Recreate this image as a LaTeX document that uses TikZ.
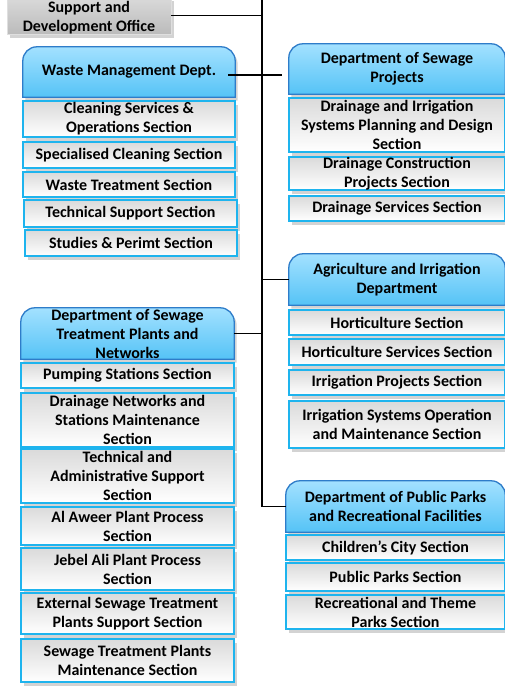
\documentclass[tikz,border=0pt]{standalone}
\usepackage{fontspec}
\setmainfont{Carlito}
\usetikzlibrary{shadows,backgrounds}
\definecolor{deptTop}{HTML}{A3E1FF}
\definecolor{deptBot}{HTML}{55C3F6}
\definecolor{deptBorder}{HTML}{2E7CC9}
\definecolor{sectBorder}{HTML}{1EB4EE}
\definecolor{sectGray}{HTML}{DADADA}
\definecolor{offTop}{HTML}{DADADA}
\definecolor{offBot}{HTML}{BBBBBB}
\tikzset{
  shad/.style={drop shadow={opacity=0.35, shadow xshift=2.5pt, shadow yshift=-3.5pt}},
  sect/.style={draw=sectBorder, line width=1.5pt, top color=sectGray, bottom color=white,
    shad, align=center, inner sep=0pt},
  dept/.style={align=center, inner sep=0pt},
  deptfill/.style={draw=deptBorder, line width=1.3pt, top color=deptTop, bottom color=deptBot, shad},
  office/.style={draw=gray!25, line width=0.8pt, top color=offTop, bottom color=offBot, shad, inner sep=0pt},
  conn/.style={line width=1.6pt, black}
}
\newcommand\deptshape[1]{%
  \begin{pgfonlayer}{background}
  \path[deptfill] (#1.south west) -- ([yshift=-14pt]#1.north west)
    arc[start angle=180,end angle=90,radius=14pt] -- ([xshift=-14pt]#1.north east)
    arc[start angle=90,end angle=0,radius=14pt] -- (#1.south east) -- cycle;
  \end{pgfonlayer}}
\begin{document}
\begin{tikzpicture}[x=1pt,y=-1pt,font=\fontsize{16}{19}\selectfont\bfseries]
\useasboundingbox (0,0) rectangle (505,689);

% spine
\coordinate (top) at (262,-5);
\coordinate (bend) at (262,506.5);

% support office
\node[office, minimum width=164pt, minimum height=37pt] (so) at (89,15.5) {};
\node[align=center, inner sep=0pt] (sot) at (89,17.5) {Support and\\Development Office};

% Waste management
\node[dept, minimum width=212pt, minimum height=50pt] (wm) at (129,72) {Waste Management Dept.};
\deptshape{wm}
\node[sect, minimum width=212pt, minimum height=36pt] (c1) at (129,119) {Cleaning Services \&\\Operations Section};
\node[sect, minimum width=212pt, minimum height=26pt] (c2) at (129,155) {Specialised Cleaning Section};
\node[sect, minimum width=212pt, minimum height=25pt] (c3) at (129,184.5) {Waste Treatment Section};
\node[sect, minimum width=213pt, minimum height=27pt] (c4) at (130.5,213.5) {Technical Support Section};
\node[sect, minimum width=212pt, minimum height=26pt] (c5) at (131,243) {Studies \& Perimt Section};

% Sewage projects
\node[dept, minimum width=216pt, minimum height=50pt] (sp) at (397,69) {Department of Sewage\\Projects};
\deptshape{sp}
\node[sect, minimum width=216pt, minimum height=54pt] (d1) at (397,125) {Drainage and Irrigation\\Systems Planning and Design\\Section};
\node[sect, minimum width=216pt, minimum height=33pt] (d2) at (397,173.5) {Drainage Construction\\Projects Section};
\node[sect, minimum width=216pt, minimum height=25pt] (d3) at (397,208.5) {Drainage Services Section};

% Agriculture
\node[dept, minimum width=216pt, minimum height=51pt] (ag) at (397,279.5) {Agriculture and Irrigation\\Department};
\deptshape{ag}
\node[sect, minimum width=216pt, minimum height=25pt] (a1) at (397,322.5) {Horticulture Section};
\node[sect, minimum width=216pt, minimum height=26pt] (a2) at (397,352) {Horticulture Services Section};
\node[sect, minimum width=216pt, minimum height=25pt] (a3) at (397,382.5) {Irrigation Projects Section};
\node[sect, minimum width=216pt, minimum height=47pt] (a4) at (397,424.5) {Irrigation Systems Operation\\and Maintenance Section};

% Sewage treatment plants
\node[dept, minimum width=213pt, minimum height=51pt] (st) at (127.5,333.5) {Department of Sewage\\Treatment Plants and\\Networks};
\deptshape{st}
\node[sect, minimum width=213pt, minimum height=25pt] (t1) at (127.5,375.5) {Pumping Stations Section};
\node[sect, minimum width=213pt, minimum height=54pt] (t2) at (127.5,420) {Drainage Networks and\\Stations Maintenance\\Section};
\node[sect, minimum width=213pt, minimum height=54pt] (t3) at (127.5,476) {Technical and\\Administrative Support\\Section};
\node[sect, minimum width=213pt, minimum height=38pt] (t4) at (127.5,526) {Al Aweer Plant Process\\Section};
\node[sect, minimum width=213pt, minimum height=42pt] (t5) at (127.5,569) {Jebel Ali Plant Process\\Section};
\node[sect, minimum width=213pt, minimum height=41pt] (t6) at (127.5,613.5) {External Sewage Treatment\\Plants Support Section};
\node[sect, minimum width=213pt, minimum height=43pt] (t7) at (127.5,660.5) {Sewage Treatment Plants\\Maintenance Section};

% Public parks
\node[dept, minimum width=219pt, minimum height=51pt] (pp) at (395.5,506.5) {Department of Public Parks\\and Recreational Facilities};
\deptshape{pp}
\node[sect, minimum width=219pt, minimum height=25pt] (p1) at (395.5,547.5) {Children’s City Section};
\node[sect, minimum width=219pt, minimum height=28pt] (p2) at (395.5,577) {Public Parks Section};
\node[sect, minimum width=219pt, minimum height=34pt] (p3) at (395.5,612) {Recreational and Theme\\Parks Section};

% connectors
\draw[conn] (top) -- (bend) -- (pp.west);
\draw[conn] (so.east) -- (so.east -| top);
\draw[conn] ([xshift=-7pt,yshift=-3pt]wm.east) -- ([xshift=-7pt,yshift=-3pt]wm.east -| sp.west);
\draw[conn] (ag.west) -- (ag.west -| top);
\draw[conn] (st.east) -- (st.east -| top);
\end{tikzpicture}
\end{document}
